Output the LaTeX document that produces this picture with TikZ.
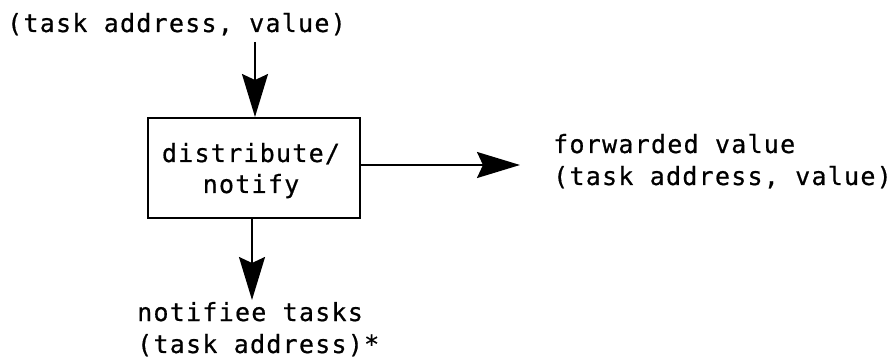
\documentclass[tikz,border=0pt]{standalone}
\usepackage{fontspec}
\usetikzlibrary{arrows.meta}
\newfontfamily\lgfont{DejaVu Sans Mono}[LetterSpace=5,FakeBold=0.6]
\begin{document}
\begin{tikzpicture}[x=1pt,y=-1pt,
  lbl/.style={font=\lgfont\fontsize{25}{32}\selectfont, inner sep=0pt, anchor=base west, align=left},
  boxstyle/.style={draw, line width=2pt, minimum width=212pt, minimum height=100pt, inner sep=0pt},
  boxtext/.style={font=\lgfont\fontsize{25}{31}\selectfont, inner sep=0pt, anchor=base, align=center},
  arr/.style={line width=2pt, -{Stealth[length=43pt, width=26pt, inset=6pt]}}]
\useasboundingbox (0,0) rectangle (892,363);
\node[lbl] (intxt) at (7,32) {(task address, value)};
\node[boxstyle] (box) at (254,168) {};
\node[boxtext] (boxlbl) at (251,193) {distribute/\\notify};
\node[lbl] (fwd) at (553,185) {forwarded value\\(task address, value)};
\node[lbl] (ntf) at (137,353) {notifiee tasks\\(task address)*};
\coordinate (a1) at (255,42);
\coordinate (a2) at (520,165);
\coordinate (a3) at (252,300);
\draw[arr] (a1) -- (a1 |- box.north);
\draw[arr] (a2 -| box.east) -- (a2);
\draw[arr] (a3 |- box.south) -- (a3);
\end{tikzpicture}
\end{document}
